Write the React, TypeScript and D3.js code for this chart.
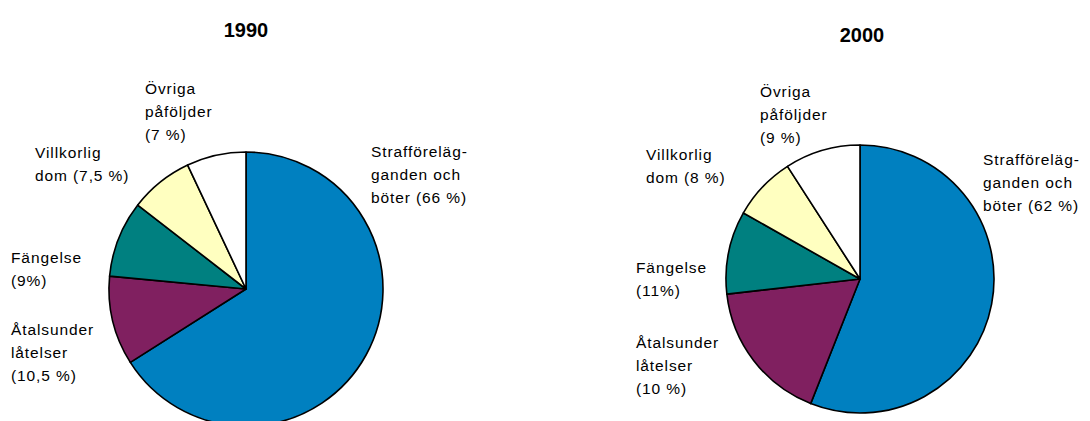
import React from "react";
import * as d3 from "d3";

const categories = [
  "Strafförelägganden och böter",
  "Åtalsunderlåtelser",
  "Fängelse",
  "Villkorlig dom",
  "Övriga påföljder",
];
const colors = ["#0080C0", "#802060", "#008080", "#FFFFC0", "#FFFFFF"];

// slice sizes as drawn in the picture
const values1990 = [66, 10.5, 9, 7.5, 7];
const values2000 = [56, 17.2, 10, 7.7, 9.1];

const titles = ["1990", "2000"];

const labels1990 = [
  ["Strafföreläg-", "ganden och", "böter (66 %)"],
  ["Åtalsunder", "låtelser", "(10,5 %)"],
  ["Fängelse", "(9%)"],
  ["Villkorlig", "dom (7,5 %)"],
  ["Övriga", "påföljder", "(7 %)"],
];
const labels2000 = [
  ["Strafföreläg-", "ganden och", "böter (62 %)"],
  ["Åtalsunder", "låtelser", "(10 %)"],
  ["Fängelse", "(11%)"],
  ["Villkorlig", "dom (8 %)"],
  ["Övriga", "påföljder", "(9 %)"],
];

type PieSpec = {
  cx: number;
  cy: number;
  r: number;
  titleX: number;
  titleY: number;
  values: number[];
  labels: string[][];
  labelPos: [number, number][];
  title: string;
};

const specs: PieSpec[] = [
  {
    cx: 246,
    cy: 289,
    r: 137,
    titleX: 246,
    titleY: 37,
    values: values1990,
    labels: labels1990,
    title: titles[0],
    labelPos: [
      [371, 157],
      [11, 335],
      [11, 263],
      [35, 158],
      [145, 94],
    ],
  },
  {
    cx: 860,
    cy: 279,
    r: 134,
    titleX: 862,
    titleY: 42,
    values: values2000,
    labels: labels2000,
    title: titles[1],
    labelPos: [
      [983, 165],
      [636, 348],
      [636, 273],
      [646, 160],
      [760, 97],
    ],
  },
];

const LINE = 23;

function Pie({ s }: { s: PieSpec }) {
  const pie = d3
    .pie<number>()
    .sort(null)
    .value((d) => d)
    .startAngle(0)
    .endAngle(2 * Math.PI);
  const arc = d3.arc<d3.PieArcDatum<number>>().innerRadius(0).outerRadius(s.r);
  const arcs = pie(s.values);
  return (
    <g>
      <text
        x={s.titleX}
        y={s.titleY}
        textAnchor="middle"
        fontFamily="Liberation Sans, Arial, sans-serif"
        fontWeight="bold"
        fontSize={20}
        fill="#000"
      >
        {s.title}
      </text>
      <g transform={`translate(${s.cx},${s.cy})`}>
        {arcs.map((a, i) => (
          <path
            key={i}
            d={arc(a) || ""}
            fill={colors[i]}
            stroke="#000"
            strokeWidth={1.6}
            strokeLinejoin="round"
          >
            <title>{categories[i]}</title>
          </path>
        ))}
      </g>
      {s.labels.map((lines, i) => (
        <text
          key={i}
          x={s.labelPos[i][0]}
          y={s.labelPos[i][1]}
          fontFamily="Liberation Sans, Arial, sans-serif"
          fontSize={15.5}
          letterSpacing={0.9}
          fill="#000"
        >
          {lines.map((l, j) => (
            <tspan key={j} x={s.labelPos[i][0]} dy={j === 0 ? 0 : LINE}>
              {l}
            </tspan>
          ))}
        </text>
      ))}
    </g>
  );
}

export default function App() {
  return (
    <svg
      width={1090}
      height={421}
      style={{ position: "absolute", left: 0, top: 0, background: "#fff" }}
    >
      <rect width={1090} height={421} fill="#fff" />
      {specs.map((s, i) => (
        <Pie key={i} s={s} />
      ))}
    </svg>
  );
}
